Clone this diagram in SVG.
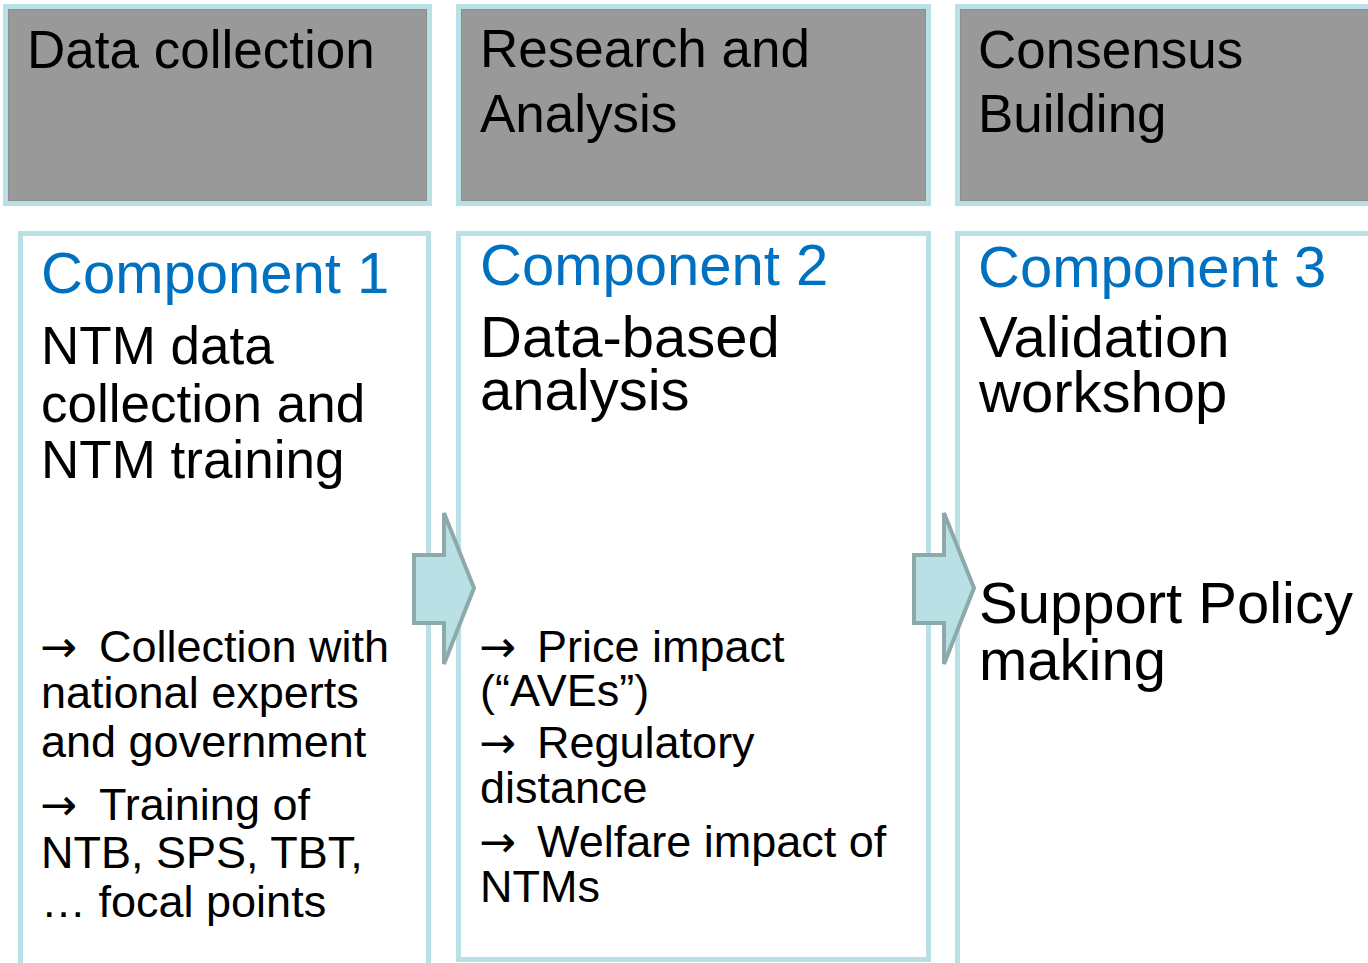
<svg xmlns="http://www.w3.org/2000/svg" width="1368" height="963" viewBox="0 0 1368 963">
<style>
.hdr{fill:#999999;stroke:#B9E0E4;stroke-width:5}
.inner{fill:none;stroke:#8E8E8E;stroke-width:1}
.box{fill:#FFFFFF;stroke:#B9E0E4;stroke-width:5}
.arrow{fill:#B9E0E4;stroke:#8DA9AA;stroke-width:4;stroke-linejoin:miter}
text{font-family:"Liberation Sans",Arial,sans-serif;fill:#000000}
.h{font-size:53px}
.c{font-size:58px;fill:#0070C0}
.t1{font-size:53px}
.t2{font-size:58px}
.b{font-size:45px}
.ar{font-family:"DejaVu Sans",sans-serif;font-size:44px}
</style>
<rect width="1368" height="963" fill="#FFFFFF"/>
<g id="header1">
<rect class="hdr" x="5.5" y="6.5" width="424" height="197"/>
<rect class="inner" x="8.5" y="9.5" width="418" height="191"/>
<text class="h" x="27" y="68">Data collection</text>
</g>
<g id="header2">
<rect class="hdr" x="458.5" y="6.5" width="470" height="197"/>
<rect class="inner" x="461.5" y="9.5" width="464" height="191"/>
<text class="h" x="480" y="67">Research and</text>
<text class="h" x="480" y="132">Analysis</text>
</g>
<g id="header3">
<rect class="hdr" x="957.5" y="6.5" width="500" height="197"/>
<rect class="inner" x="960.5" y="9.5" width="494" height="191"/>
<text class="h" x="978" y="68">Consensus</text>
<text class="h" x="978" y="132">Building</text>
</g>
<g id="component1">
<rect class="box" x="20.5" y="233.5" width="408" height="800"/>
<text class="c" x="41" y="293">Component 1</text>
<text class="t1" x="41" y="364">NTM data</text>
<text class="t1" x="41" y="422">collection and</text>
<text class="t1" x="41" y="478">NTM training</text>
<text class="b" x="40" y="662"><tspan class="ar">→</tspan> <tspan x="99">Collection with</tspan></text>
<text class="b" x="41" y="708">national experts</text>
<text class="b" x="41" y="757">and government</text>
<text class="b" x="40" y="820"><tspan class="ar">→</tspan> <tspan x="99">Training of</tspan></text>
<text class="b" x="41" y="868">NTB, SPS, TBT,</text>
<text class="b" x="41" y="917">… focal points</text>
</g>
<g id="component2">
<rect class="box" x="458.5" y="233.5" width="470" height="726"/>
<text class="c" x="480" y="285">Component 2</text>
<text class="t2" x="480" y="357">Data-based</text>
<text class="t2" x="480" y="410">analysis</text>
<text class="b" x="479" y="662"><tspan class="ar">→</tspan> <tspan x="537">Price impact</tspan></text>
<text class="b" x="480" y="706">(“AVEs”)</text>
<text class="b" x="479" y="758"><tspan class="ar">→</tspan> <tspan x="537">Regulatory</tspan></text>
<text class="b" x="480" y="803">distance</text>
<text class="b" x="479" y="857"><tspan class="ar">→</tspan> <tspan x="537">Welfare impact of</tspan></text>
<text class="b" x="480" y="902">NTMs</text>
</g>
<g id="component3">
<rect class="box" x="957.5" y="233.5" width="500" height="800"/>
<text class="c" x="978" y="287">Component 3</text>
<text class="t2" x="979" y="357">Validation</text>
<text class="t2" x="979" y="412">workshop</text>
<text class="t2" x="979" y="623">Support Policy</text>
<text class="t2" x="979" y="680">making</text>
</g>
<g id="connectors">
<polygon class="arrow" points="414,555 444,555 444,513 474,588 444,664 444,623 414,623"/>
<polygon class="arrow" points="914,555 944,555 944,513 974,588 944,664 944,623 914,623"/>
</g>
</svg>
